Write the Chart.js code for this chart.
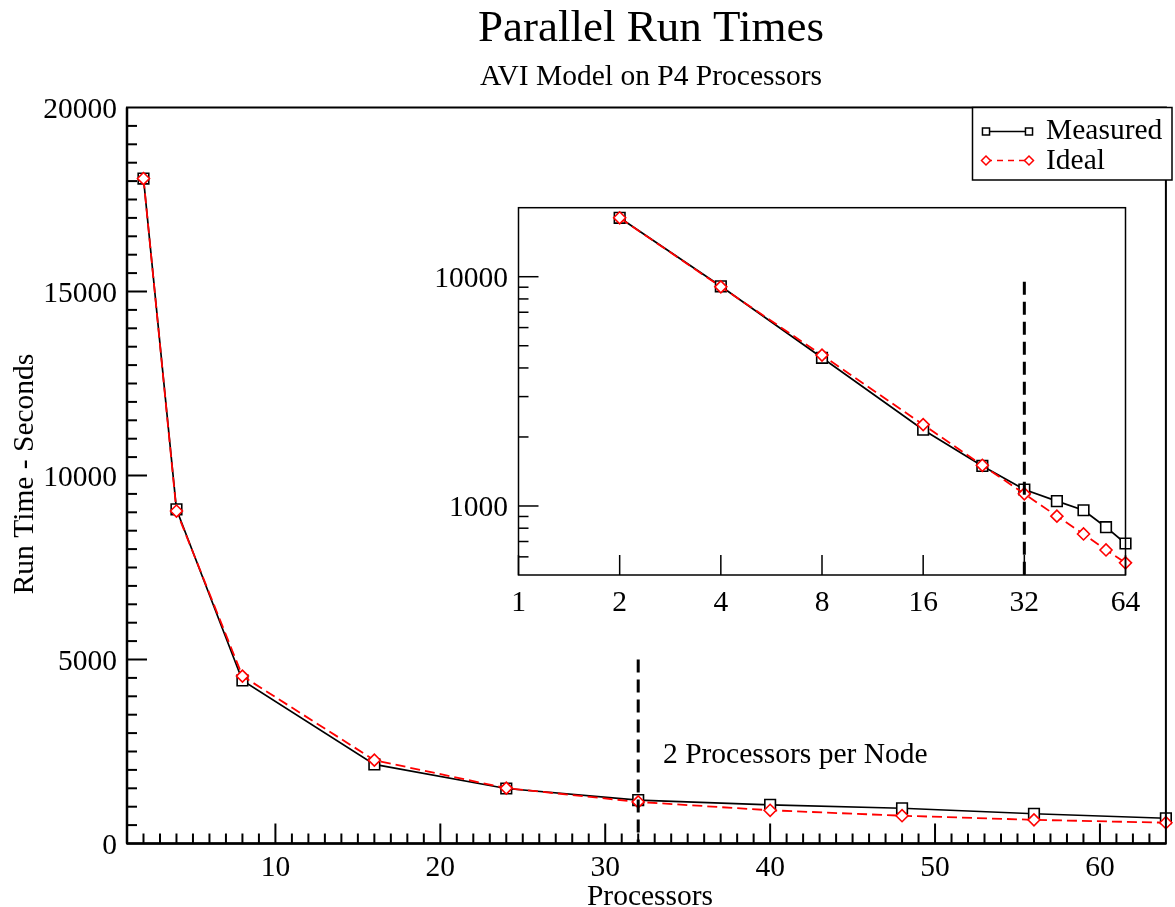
<!DOCTYPE html>
<html>
<head>
<meta charset="utf-8">
<title>Parallel Run Times</title>
<script src="https://cdn.jsdelivr.net/npm/chart.js@4.4.1/dist/chart.umd.min.js"></script>
<style>
  html, body { margin: 0; padding: 0; background: #fff; }
  #wrap { position: relative; width: 1175px; height: 907px; overflow: hidden; }
  #main { position: absolute; left: 0; top: 0; }
  #inset { position: absolute; left: 420px; top: 190px; }
</style>
</head>
<body>
<div id="wrap">
  <canvas id="main" width="1175" height="907"></canvas>
  <canvas id="inset" width="740" height="440"></canvas>
</div>
<script>
// values
const procs = [2, 4, 8, 16, 24, 32, 40, 48, 56, 64];
const measured = [18070, 9080, 4430, 2150, 1495, 1180, 1050, 958, 808, 686];
const ideal = [18070, 9035, 4550, 2265, 1505, 1130, 903, 755, 643, 565];

// axes
const mainXTicks = [10, 20, 30, 40, 50, 60];
const mainYTicks = [0, 5000, 10000, 15000, 20000];
const insetXTicks = [1, 2, 4, 8, 16, 32, 64];
const insetYTicks = [1000, 10000];
const insetYMinor = [600, 700, 800, 900, 2000, 3000, 4000, 5000, 6000, 7000, 8000, 9000];

// "2 processors per node" marker
const nodeX = 32;
const mainNodeTop = 5000;
const insetNodeTop = 9500;

const SERIF = '"Liberation Serif", "Times New Roman", serif';
const LABEL_FONT = '29.5px ' + SERIF;
const RED = '#ff0000';
const INSET_LEFT = 420, INSET_TOP = 190;

const pts = (ys) => procs.map((p, i) => ({ x: p, y: ys[i] }));

function seriesSets(markerScale) {
  return [
    {
      data: [{ x: nodeX, y: markerScale.top }, { x: nodeX, y: markerScale.bottom }],
      borderColor: '#000',
      borderWidth: 3,
      borderDash: [13, 7],
      pointRadius: 0,
      order: 0
    },
    {
      data: pts(ideal),
      borderColor: RED,
      borderWidth: 1.8,
      borderDash: [10, 5],
      pointStyle: 'rectRot',
      pointRadius: 6,
      pointBorderWidth: 1.6,
      pointBorderColor: RED,
      pointBackgroundColor: '#fff',
      order: 1
    },
    {
      data: pts(measured),
      borderColor: '#000',
      borderWidth: 1.7,
      pointStyle: 'rect',
      pointRadius: 7.5,
      pointBorderWidth: 1.6,
      pointBorderColor: '#000',
      pointBackgroundColor: '#fff',
      order: 2
    }
  ];
}

function line(ctx, x1, y1, x2, y2) {
  ctx.beginPath();
  ctx.moveTo(x1, y1);
  ctx.lineTo(x2, y2);
  ctx.stroke();
}

const mainDecor = {
  id: 'mainDecor',
  afterDraw(chart) {
    const { ctx, chartArea: a, scales: { x, y } } = chart;
    ctx.save();
    ctx.strokeStyle = '#000';
    ctx.fillStyle = '#000';

    // inward ticks
    ctx.lineWidth = 2;
    for (let v = 2; v < 64; v++) {
      const px = x.getPixelForValue(v);
      line(ctx, px, a.bottom, px, a.bottom - (v % 10 === 0 ? 20 : 10));
    }
    for (let v = 500; v < 20000; v += 500) {
      const py = y.getPixelForValue(v);
      line(ctx, a.left, py, a.left + (v % 5000 === 0 ? 20 : 10), py);
    }

    // frame
    ctx.lineWidth = 2;
    ctx.strokeRect(a.left, a.top, a.right - a.left, a.bottom - a.top);
    ctx.lineWidth = 2.5;
    line(ctx, a.left, a.top, a.left, a.bottom);
    line(ctx, a.left, a.bottom, a.right, a.bottom);

    // tick labels
    ctx.font = LABEL_FONT;
    ctx.textAlign = 'center';
    ctx.textBaseline = 'alphabetic';
    mainXTicks.forEach((v) => ctx.fillText(String(v), x.getPixelForValue(v), 876));
    ctx.textAlign = 'right';
    mainYTicks.forEach((v) => ctx.fillText(String(v), 117, y.getPixelForValue(v) + 10));

    // titles
    ctx.textAlign = 'center';
    ctx.font = '45px ' + SERIF;
    ctx.fillText('Parallel Run Times', 651, 41);
    ctx.font = LABEL_FONT;
    ctx.fillText('AVI Model on P4 Processors', 651, 85);
    ctx.fillText('Processors', 650, 905);
    ctx.save();
    ctx.translate(33, 474);
    ctx.rotate(-Math.PI / 2);
    ctx.fillText('Run Time - Seconds', 0, 0);
    ctx.restore();

    ctx.textAlign = 'left';
    ctx.fillText('2 Processors per Node', 663, 763);

    // legend
    const lx = 972.5, ly = 107.5, lw = 199.5, lh = 72.5;
    ctx.fillStyle = '#fff';
    ctx.fillRect(lx, ly, lw, lh);
    ctx.lineWidth = 1.5;
    ctx.strokeRect(lx, ly, lw, lh);

    const drawPoint = Chart.helpers.drawPoint;
    ctx.lineWidth = 1.5;
    ctx.strokeStyle = '#000';
    line(ctx, 986, 131.5, 1029, 131.5);
    ctx.fillStyle = '#fff';
    drawPoint(ctx, { pointStyle: 'rect', radius: 5, borderWidth: 1.5 }, 986, 131.5);
    drawPoint(ctx, { pointStyle: 'rect', radius: 5, borderWidth: 1.5 }, 1029, 131.5);

    ctx.strokeStyle = RED;
    ctx.setLineDash([6, 5]);
    line(ctx, 986, 160.5, 1029, 160.5);
    ctx.setLineDash([]);
    drawPoint(ctx, { pointStyle: 'rectRot', radius: 4.5, borderWidth: 1.5 }, 986, 160.5);
    drawPoint(ctx, { pointStyle: 'rectRot', radius: 4.5, borderWidth: 1.5 }, 1029, 160.5);

    ctx.fillStyle = '#000';
    ctx.font = LABEL_FONT;
    ctx.fillText('Measured', 1046, 139);
    ctx.fillText('Ideal', 1046, 169);
    ctx.restore();
  }
};

const insetDecor = {
  id: 'insetDecor',
  afterDraw(chart) {
    const { ctx, chartArea: a, scales: { x, y } } = chart;
    ctx.save();
    ctx.strokeStyle = '#000';
    ctx.fillStyle = '#000';
    ctx.lineWidth = 1.5;
    insetXTicks.forEach((v) => {
      const px = x.getPixelForValue(v);
      line(ctx, px, a.bottom, px, a.bottom - 20);
    });
    insetYTicks.forEach((v) => {
      const py = y.getPixelForValue(v);
      line(ctx, a.left, py, a.left + 20, py);
    });
    insetYMinor.forEach((v) => {
      const py = y.getPixelForValue(v);
      line(ctx, a.left, py, a.left + 10, py);
    });
    ctx.strokeRect(a.left, a.top, a.right - a.left, a.bottom - a.top);

    ctx.font = LABEL_FONT;
    ctx.textAlign = 'center';
    ctx.textBaseline = 'alphabetic';
    insetXTicks.forEach((v) => ctx.fillText(String(v), x.getPixelForValue(v), 611 - INSET_TOP));
    ctx.textAlign = 'right';
    insetYTicks.forEach((v) => ctx.fillText(String(v), 508 - INSET_LEFT, y.getPixelForValue(v) + 10));
    ctx.restore();
  }
};

const baseOpts = {
  responsive: false,
  animation: false,
  events: [],
  plugins: { legend: { display: false }, tooltip: { enabled: false } }
};

new Chart(document.getElementById('main'), {
  type: 'line',
  data: { datasets: seriesSets({ top: mainNodeTop, bottom: 0 }).map((d) => ({ ...d, clip: false, tension: 0 })) },
  options: {
    ...baseOpts,
    layout: { padding: { left: 127, top: 107.5, right: 2, bottom: 63.5 } },
    scales: {
      x: { type: 'linear', min: 1, max: 64, display: false },
      y: { type: 'linear', min: 0, max: 20000, display: false }
    }
  },
  plugins: [mainDecor]
});

new Chart(document.getElementById('inset'), {
  type: 'line',
  data: { datasets: seriesSets({ top: insetNodeTop, bottom: 500 }).map((d) => ({ ...d, clip: false, tension: 0 })) },
  options: {
    ...baseOpts,
    layout: { padding: { left: 98.5, top: 17.7, right: 34.5, bottom: 55 } },
    scales: {
      x: { type: 'logarithmic', min: 1, max: 64, display: false },
      y: { type: 'logarithmic', min: 500, max: 20000, display: false }
    }
  },
  plugins: [insetDecor]
});
</script>
</body>
</html>
